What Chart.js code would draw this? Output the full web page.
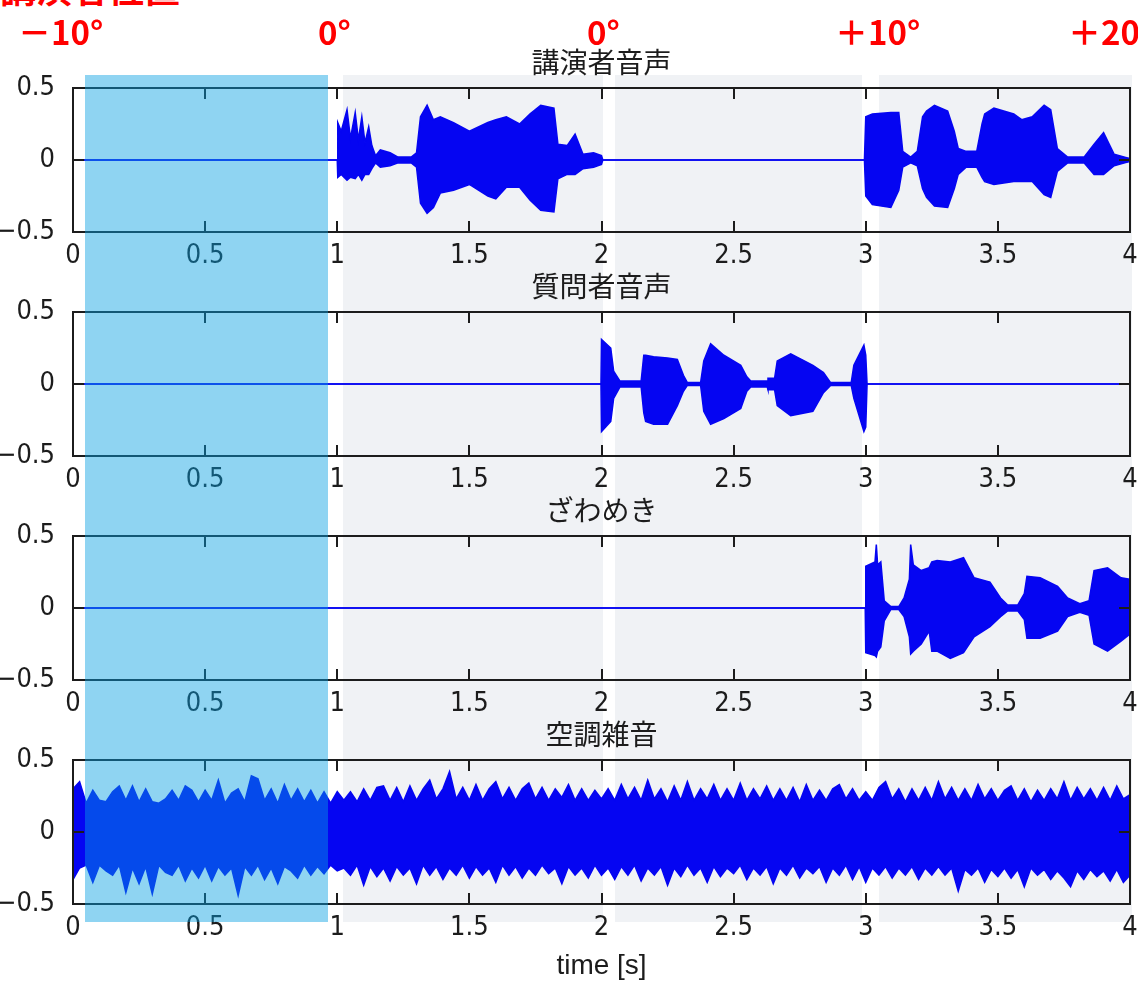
<!DOCTYPE html>
<html>
<head>
<meta charset="utf-8">
<script src="https://cdn.jsdelivr.net/npm/chart.js@4"></script>
<style>
  body { margin: 0; background: #fff; }
  #page { position: relative; width: 1138px; height: 981px; overflow: hidden; }
  .bg { position: absolute; top: 75px; height: 847px; background: #f0f2f5; }
  canvas { position: absolute; left: 0; }
  #shade { position: absolute; left: 85px; top: 75px; width: 243px; height: 847px; background: rgba(7, 160, 227, 0.45); }
  .deg { position: absolute; color: #ff0000; font: bold 33px 'Noto Sans CJK JP', sans-serif; line-height: 1; white-space: nowrap; }
</style>
</head>
<body>
<div id="page">
  <div class="bg" style="left:343px;width:260px"></div>
  <div class="bg" style="left:615px;width:247px"></div>
  <div class="bg" style="left:879px;width:253px"></div>

  <canvas id="c1" width="1138" height="224" style="top:48px"></canvas>
  <canvas id="c2" width="1138" height="224" style="top:272px"></canvas>
  <canvas id="c3" width="1138" height="224" style="top:496px"></canvas>
  <canvas id="c4" width="1138" height="261" style="top:720px"></canvas>

  <div id="shade"></div>

  <div class="deg" style="left:0;top:-31px;font-size:36px">講演者位置</div>
  <div class="deg" style="left:18px;top:15px">－10°</div>
  <div class="deg" style="left:318px;top:15px">0°</div>
  <div class="deg" style="left:587px;top:15px">0°</div>
  <div class="deg" style="left:835px;top:15px">＋10°</div>
  <div class="deg" style="left:1068px;top:15px">＋20</div>
</div>

<script>
// axis ticks
const xTicks = [0, 0.5, 1, 1.5, 2, 2.5, 3, 3.5, 4];
const yTicks = [-0.5, 0, 0.5];

const titles = ['講演者音声', '質問者音声', 'ざわめき', '空調雑音'];
const xLabel = 'time [s]';

// envelopes (upper / lower peak)
const lecturerT = [0, 1.0, 1.002, 1.015, 1.037, 1.05, 1.068, 1.08, 1.093, 1.105, 1.119, 1.131, 1.145, 1.163, 1.2, 1.23, 1.28, 1.3, 1.315, 1.34, 1.364, 1.39, 1.44, 1.5, 1.57, 1.6, 1.64, 1.69, 1.73, 1.77, 1.82, 1.835, 1.87, 1.9, 1.93, 1.97, 2.0, 2.005, 2.995, 3.0, 3.025, 3.095, 3.125, 3.14, 3.17, 3.195, 3.215, 3.23, 3.26, 3.31, 3.335, 3.35, 3.38, 3.42, 3.44, 3.45, 3.485, 3.56, 3.59, 3.63, 3.675, 3.7, 3.725, 3.764, 3.826, 3.864, 3.9, 3.94, 3.98, 4.0];
const lecturerUp = [0, 0, 0.26, 0.2, 0.35, 0.15, 0.33, 0.14, 0.3, 0.12, 0.23, 0.1, 0.03, 0.07, 0.05, 0.02, 0.02, 0.05, 0.3, 0.38, 0.28, 0.3, 0.26, 0.2, 0.26, 0.28, 0.3, 0.25, 0.32, 0.38, 0.36, 0.11, 0.1, 0.18, 0.04, 0.05, 0.03, 0, 0, 0.3, 0.32, 0.33, 0.33, 0.06, 0.02, 0.06, 0.3, 0.34, 0.38, 0.34, 0.2, 0.08, 0.06, 0.06, 0.25, 0.32, 0.36, 0.32, 0.28, 0.3, 0.38, 0.35, 0.08, 0.02, 0.02, 0.11, 0.19, 0.04, 0.02, 0.01];
const lecturerLo = [0, 0, -0.12, -0.1, -0.14, -0.12, -0.13, -0.1, -0.14, -0.1, -0.1, -0.06, -0.02, -0.05, -0.04, -0.02, -0.02, -0.05, -0.3, -0.37, -0.33, -0.23, -0.21, -0.17, -0.25, -0.27, -0.19, -0.19, -0.28, -0.35, -0.36, -0.13, -0.1, -0.1, -0.06, -0.05, -0.03, 0, 0, -0.25, -0.31, -0.33, -0.21, -0.05, -0.02, -0.04, -0.2, -0.26, -0.32, -0.33, -0.2, -0.1, -0.05, -0.05, -0.12, -0.15, -0.17, -0.15, -0.15, -0.15, -0.24, -0.26, -0.08, -0.02, -0.02, -0.1, -0.1, -0.04, -0.02, -0.01];

const questionerT = [0, 1.998, 2.0, 2.035, 2.046, 2.07, 2.15, 2.16, 2.167, 2.197, 2.25, 2.287, 2.31, 2.325, 2.375, 2.387, 2.413, 2.463, 2.527, 2.55, 2.565, 2.627, 2.63, 2.655, 2.665, 2.716, 2.8, 2.84, 2.867, 2.945, 2.955, 2.993, 3.0, 3.005, 4.0];
const questionerUp = [0, 0, 0.31, 0.25, 0.09, 0.02, 0.02, 0.2, 0.2, 0.19, 0.18, 0.17, 0.06, 0.01, 0.01, 0.16, 0.28, 0.2, 0.13, 0.05, 0.02, 0.02, 0.04, 0.04, 0.16, 0.21, 0.13, 0.08, 0.01, 0.01, 0.13, 0.27, 0.2, 0, 0];
const questionerLo = [0, 0, -0.33, -0.26, -0.1, -0.02, -0.02, -0.2, -0.26, -0.28, -0.28, -0.15, -0.05, -0.01, -0.01, -0.19, -0.28, -0.24, -0.17, -0.05, -0.02, -0.02, -0.04, -0.04, -0.15, -0.22, -0.19, -0.06, -0.01, -0.01, -0.1, -0.33, -0.3, 0, 0];

const murmurT = [0, 2.998, 3.0, 3.035, 3.04, 3.045, 3.057, 3.07, 3.095, 3.125, 3.145, 3.165, 3.17, 3.18, 3.21, 3.24, 3.25, 3.27, 3.32, 3.37, 3.41, 3.47, 3.51, 3.537, 3.575, 3.6, 3.61, 3.66, 3.726, 3.764, 3.81, 3.845, 3.864, 3.915, 3.966, 4.0];
const murmurUp = [0, 0, 0.29, 0.32, 0.44, 0.3, 0.32, 0.05, 0.01, 0.01, 0.07, 0.2, 0.44, 0.3, 0.26, 0.28, 0.32, 0.33, 0.32, 0.35, 0.21, 0.18, 0.07, 0.02, 0.02, 0.1, 0.22, 0.21, 0.15, 0.07, 0.03, 0.05, 0.26, 0.28, 0.21, 0.2];
const murmurLo = [0, 0, -0.31, -0.33, -0.34, -0.3, -0.27, -0.09, -0.01, -0.01, -0.06, -0.2, -0.32, -0.3, -0.25, -0.16, -0.3, -0.3, -0.35, -0.31, -0.2, -0.13, -0.06, -0.02, -0.02, -0.08, -0.21, -0.21, -0.16, -0.06, -0.03, -0.05, -0.25, -0.3, -0.23, -0.18];

// air-conditioner noise, one peak pair every 25 ms
const noiseStep = 0.025;
const noiseUp = [
  0.3, 0.35, 0.2, 0.29, 0.22, 0.21, 0.28, 0.32, 0.22, 0.32, 0.21, 0.3, 0.21, 0.2, 0.23, 0.29, 0.22, 0.32, 0.29, 0.21, 0.29, 0.22, 0.36, 0.2, 0.27, 0.3, 0.21, 0.39, 0.37, 0.22, 0.3, 0.2, 0.33, 0.22, 0.3, 0.21, 0.29, 0.2, 0.28, 0.2, 0.28,
  0.22, 0.28, 0.21, 0.3, 0.22, 0.31, 0.32, 0.22, 0.31, 0.21, 0.32, 0.22, 0.3, 0.36, 0.23, 0.3, 0.42, 0.23, 0.31, 0.22, 0.33, 0.22, 0.3, 0.35, 0.23, 0.31, 0.22, 0.3, 0.34, 0.23, 0.31, 0.22, 0.3, 0.24, 0.33, 0.22, 0.3, 0.22, 0.29, 0.23,
  0.3, 0.22, 0.33, 0.23, 0.31, 0.22, 0.36, 0.23, 0.3, 0.21, 0.32, 0.22, 0.35, 0.22, 0.3, 0.23, 0.33, 0.22, 0.3, 0.22, 0.34, 0.22, 0.3, 0.23, 0.32, 0.22, 0.3, 0.22, 0.31, 0.21, 0.33, 0.22, 0.29, 0.22, 0.3, 0.33, 0.23, 0.3, 0.22, 0.28,
  0.22, 0.31, 0.35, 0.23, 0.3, 0.21, 0.3, 0.22, 0.31, 0.22, 0.35, 0.23, 0.31, 0.22, 0.3, 0.22, 0.33, 0.23, 0.3, 0.22, 0.29, 0.32, 0.22, 0.3, 0.21, 0.29, 0.22, 0.3, 0.23, 0.35, 0.22, 0.31, 0.23, 0.3, 0.22, 0.31, 0.22, 0.32, 0.23, 0.26
];
const noiseLo = [
  -0.33, -0.25, -0.23, -0.35, -0.23, -0.27, -0.3, -0.23, -0.42, -0.25, -0.36, -0.24, -0.43, -0.23, -0.28, -0.3, -0.23, -0.34, -0.25, -0.32, -0.23, -0.34, -0.24, -0.3, -0.25, -0.44, -0.24, -0.3, -0.23, -0.33, -0.25, -0.36, -0.24, -0.27, -0.32, -0.23, -0.3, -0.24, -0.29, -0.23, -0.27,
  -0.25, -0.3, -0.23, -0.37, -0.24, -0.31, -0.25, -0.34, -0.24, -0.3, -0.25, -0.36, -0.23, -0.3, -0.24, -0.33, -0.25, -0.3, -0.23, -0.32, -0.24, -0.3, -0.25, -0.35, -0.23, -0.3, -0.24, -0.32, -0.25, -0.3, -0.23, -0.29, -0.25, -0.36, -0.24, -0.3, -0.25, -0.32, -0.23, -0.3,
  -0.25, -0.33, -0.24, -0.3, -0.23, -0.34, -0.25, -0.3, -0.24, -0.37, -0.25, -0.31, -0.23, -0.3, -0.25, -0.35, -0.24, -0.31, -0.25, -0.29, -0.23, -0.33, -0.25, -0.3, -0.24, -0.36, -0.25, -0.3, -0.23, -0.32, -0.25, -0.29, -0.24, -0.35, -0.25, -0.3, -0.23, -0.33, -0.24, -0.35,
  -0.25, -0.3, -0.24, -0.32, -0.25, -0.3, -0.24, -0.33, -0.25, -0.3, -0.24, -0.3, -0.25, -0.41, -0.26, -0.3, -0.25, -0.35, -0.26, -0.31, -0.25, -0.32, -0.26, -0.38, -0.25, -0.3, -0.26, -0.33, -0.27, -0.32, -0.38, -0.27, -0.33, -0.26, -0.31, -0.27, -0.34, -0.26, -0.35, -0.3
];
const noiseT = noiseUp.map((v, i) => i * noiseStep);

const BLUE = '#0505f2';
const INK = '#1c1c1c';
const TICK_FONT = { family: "'Liberation Sans Narrow', 'DejaVu Sans Condensed', sans-serif", size: 27 };

// box + inward ticks like the MATLAB axes
const framePlugin = {
  id: 'frame',
  afterDraw(chart) {
    const ctx = chart.ctx;
    const a = chart.chartArea;
    const sx = chart.scales.x, sy = chart.scales.y;
    ctx.save();
    ctx.strokeStyle = INK;
    ctx.fillStyle = INK;
    ctx.lineWidth = 2;
    ctx.strokeRect(a.left, a.top, a.right - a.left, a.bottom - a.top);
    for (const v of xTicks) {
      const px = Math.round(sx.getPixelForValue(v));
      ctx.fillRect(px - 1, a.bottom - 11, 2, 11);
      ctx.fillRect(px - 1, a.top, 2, 11);
    }
    for (const v of yTicks) {
      const py = Math.round(sy.getPixelForValue(v));
      ctx.fillRect(a.left, py - 1, 11, 2);
      ctx.fillRect(a.right - 11, py - 1, 11, 2);
    }
    ctx.restore();
  }
};

function points(ts, vs) {
  return ts.map((t, i) => ({ x: t, y: vs[i] }));
}

function makeChart(id, title, ts, up, lo, withLabel) {
  new Chart(document.getElementById(id), {
    type: 'line',
    data: {
      datasets: [
        { data: points(ts, up), borderColor: BLUE, backgroundColor: BLUE, borderWidth: 1.5, fill: '+1' },
        { data: points(ts, lo), borderColor: BLUE, borderWidth: 1.5, fill: false }
      ]
    },
    options: {
      responsive: false,
      animation: false,
      layout: { padding: { left: 0, right: 8, top: 0, bottom: 0 } },
      elements: { point: { radius: 0 }, line: { tension: 0 } },
      plugins: {
        legend: { display: false },
        tooltip: { enabled: false },
        title: {
          display: true,
          text: title,
          fullSize: false,
          color: INK,
          font: { family: "'Noto Sans CJK JP', sans-serif", size: 28, weight: 'normal', lineHeight: 1 },
          padding: { top: 0, bottom: 12 }
        }
      },
      scales: {
        x: {
          type: 'linear',
          min: 0,
          max: 4,
          grid: { display: false },
          border: { display: false },
          afterBuildTicks: s => { s.ticks = xTicks.map(v => ({ value: v })); },
          afterFit: s => { s.height = withLabel ? 77 : 40; },
          ticks: { color: INK, font: TICK_FONT, padding: 0, maxRotation: 0, autoSkip: false, callback: v => String(v) },
          title: {
            display: withLabel,
            text: xLabel,
            color: INK,
            font: { family: "'Liberation Sans', sans-serif", size: 28, lineHeight: 1 },
            padding: { top: 0, bottom: 1 }
          }
        },
        y: {
          min: -0.5,
          max: 0.5,
          grid: { display: false },
          border: { display: false },
          afterBuildTicks: s => { s.ticks = yTicks.map(v => ({ value: v })); },
          afterFit: s => { s.width = 73; },
          ticks: { color: INK, font: TICK_FONT, padding: 10, callback: v => v < 0 ? '\u2212' + Math.abs(v) : String(v) }
        }
      }
    },
    plugins: [framePlugin]
  });
}

makeChart('c1', titles[0], lecturerT, lecturerUp, lecturerLo, false);
makeChart('c2', titles[1], questionerT, questionerUp, questionerLo, false);
makeChart('c3', titles[2], murmurT, murmurUp, murmurLo, false);
makeChart('c4', titles[3], noiseT, noiseUp, noiseLo, true);
</script>
</body>
</html>
